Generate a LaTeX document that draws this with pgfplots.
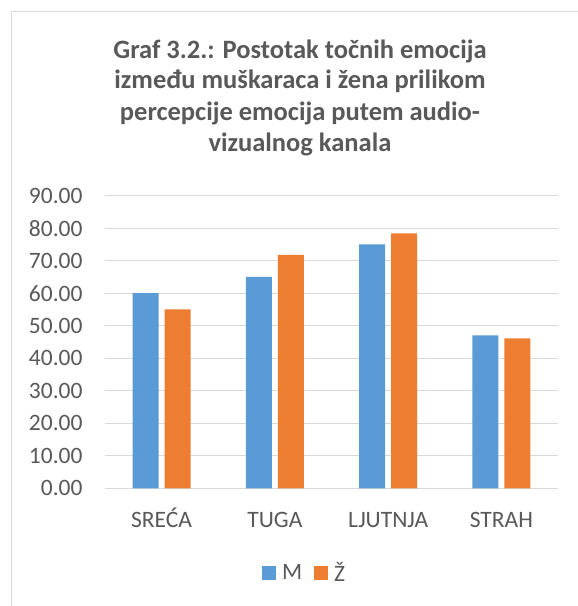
\documentclass[border=0pt]{standalone}
\usepackage{fontspec}
\setmainfont{Carlito}
\usepackage{pgfplots}
\pgfplotsset{compat=1.18}
\definecolor{mblue}{HTML}{5B9BD5}
\definecolor{zorange}{HTML}{ED7D31}
\definecolor{txt}{HTML}{595959}
\definecolor{gridc}{HTML}{D9D9D9}
\begin{document}
\begin{tikzpicture}
\useasboundingbox (0,0) rectangle (578bp,606bp);
\fill[white] (0,0) rectangle (578bp,606bp);
\draw[gridc, line width=1bp] (11bp,0) -- (11bp,594bp) -- (578bp,594bp);
\begin{scope}[every node/.style={font=\fontsize{26.5bp}{31bp}\selectfont\bfseries, text=txt, anchor=base, inner sep=0pt}]
\node at (300bp,547.5bp) {Graf 3.2.: Postotak točnih emocija};
\node at (300bp,517bp) {između muškaraca i žena prilikom};
\node at (300bp,485.5bp) {percepcije emocija putem audio-};
\node at (300bp,454.5bp) {vizualnog kanala};
\end{scope}
\begin{axis}[
  at={(105bp,117.7bp)}, anchor=south west,
  scale only axis, width=453bp, height=292.6bp,
  ybar,
  ymin=0, ymax=90,
  xmin=-0.5, xmax=3.5,
  ytick={0,10,...,90},
  xtick={0,1,2,3},
  xticklabels={SREĆA,TUGA,LJUTNJA,STRAH},
  /pgf/number format/assume math mode=true,
  yticklabel={\pgfmathprintnumber[fixed,fixed zerofill,precision=2]{\tick}},
  ymajorgrids,
  grid style={gridc, line width=1bp},
  axis line style={draw=none},
  major tick length=0pt,
  tick style={draw=none},
  ticklabel style={font=\fontsize{23.5bp}{28bp}\selectfont, text=txt},
  yticklabel style={anchor=east, inner sep=0pt, xshift=-22.3bp},
  xticklabel style={anchor=base, inner sep=0pt, yshift=-39.2bp},
  bar width=26bp,
  legend columns=2,
  legend style={at={(axis description cs:0.4406,-0.2895)}, anchor=center, draw=none, fill=none,
    font=\fontsize{23.5bp}{28bp}\selectfont, text=txt,
    /tikz/every even column/.append style={column sep=10bp},
    cells={anchor=west}},
]
\addplot[fill=mblue, draw=none, bar shift=-16bp,
  legend image code/.code={\fill[mblue] (0bp,-7bp) rectangle (14bp,7bp); \path (0bp,0bp) -- (18bp,0bp);}]
  coordinates {(0,60.0) (1,65.0) (2,75.0) (3,47.0)};
\addplot[fill=zorange, draw=none, bar shift=16bp,
  legend image code/.code={\fill[zorange] (0bp,-7bp) rectangle (14bp,7bp); \path (0bp,0bp) -- (18bp,0bp);}]
  coordinates {(0,55.0) (1,71.8) (2,78.4) (3,46.1)};
\legend{M,Ž}
\end{axis}
\end{tikzpicture}
\end{document}
